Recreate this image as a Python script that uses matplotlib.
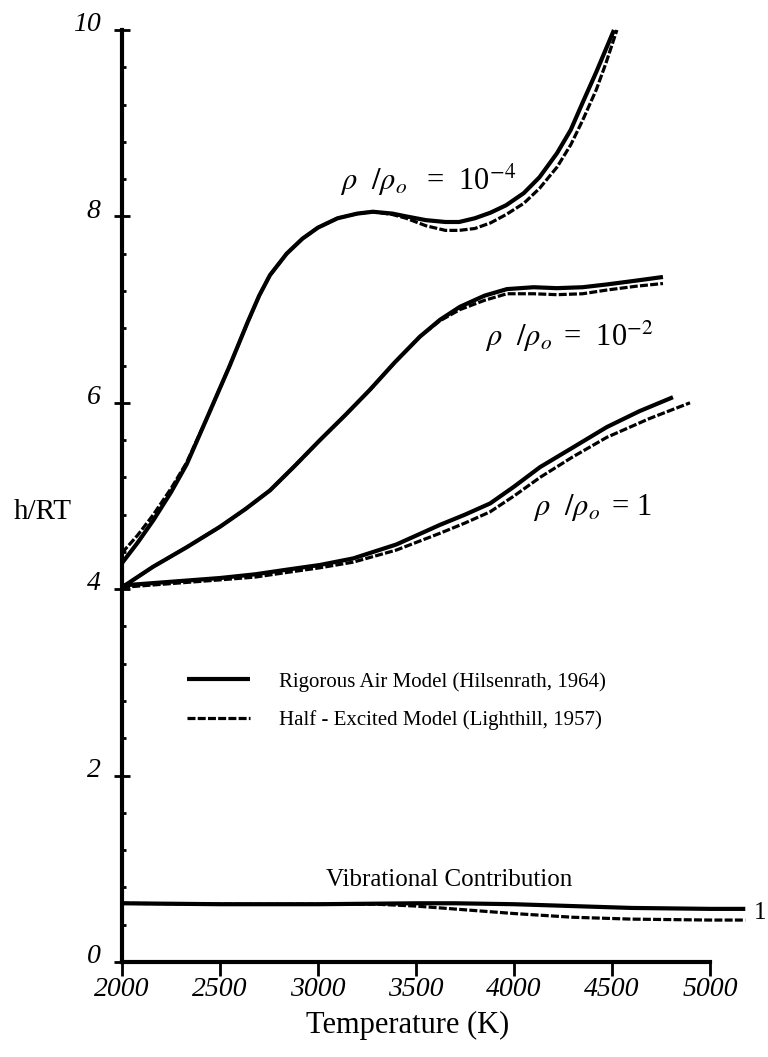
import numpy as np
import matplotlib
matplotlib.use('Agg')
import matplotlib.pyplot as plt
from matplotlib.ticker import MultipleLocator
import matplotlib.transforms as mtransforms

plt.rcParams['font.family'] = ['Liberation Serif', 'DejaVu Serif']
plt.rcParams['mathtext.fontset'] = 'stix'

# rho/rho_o = 1e-4
T_4s = [2000, 2080, 2160, 2250, 2330, 2430, 2550, 2640, 2700, 2755, 2840, 2920, 3000, 3100,
        3200, 3280, 3380, 3450, 3550, 3650, 3720, 3800, 3880, 3960, 4050, 4130, 4220, 4290,
        4350, 4420, 4470, 4510]
h_4s = [4.28, 4.50, 4.74, 5.04, 5.34, 5.82, 6.40, 6.86, 7.15, 7.37, 7.60, 7.76, 7.88, 7.98,
        8.03, 8.05, 8.03, 8.00, 7.96, 7.94, 7.94, 7.98, 8.04, 8.12, 8.25, 8.42, 8.68, 8.93,
        9.22, 9.55, 9.80, 10.0]
T_4d = [2000, 2080, 2160, 2250, 2330, 2430, 2550, 2640, 2700, 2755, 2840, 2920, 3000, 3100,
        3200, 3280, 3380, 3450, 3550, 3650, 3720, 3800, 3880, 3960, 4050, 4130, 4220, 4290,
        4350, 4420, 4470, 4525]
h_4d = [4.39, 4.58, 4.80, 5.08, 5.36, 5.82, 6.40, 6.86, 7.15, 7.37, 7.60, 7.76, 7.88, 7.98,
        8.03, 8.05, 8.02, 7.98, 7.90, 7.85, 7.85, 7.87, 7.93, 8.02, 8.14, 8.30, 8.53, 8.77,
        9.03, 9.36, 9.65, 10.0]

# rho/rho_o = 1e-2
T_2s = [2000, 2158, 2330, 2500, 2630, 2755, 2880, 3010, 3140, 3265, 3390, 3520, 3622, 3724,
        3850, 3964, 4100, 4219, 4350, 4474, 4620, 4760]
h_2s = [4.02, 4.24, 4.45, 4.67, 4.86, 5.06, 5.32, 5.60, 5.87, 6.14, 6.43, 6.71, 6.89, 7.03,
        7.15, 7.22, 7.24, 7.23, 7.24, 7.27, 7.31, 7.35]
T_2d = [2000, 2158, 2330, 2500, 2630, 2755, 2880, 3010, 3140, 3265, 3390, 3520, 3622, 3724,
        3850, 3964, 4100, 4219, 4350, 4474, 4620, 4760]
h_2d = [4.02, 4.24, 4.45, 4.67, 4.86, 5.06, 5.32, 5.60, 5.87, 6.14, 6.43, 6.71, 6.88, 7.00,
        7.10, 7.17, 7.17, 7.16, 7.17, 7.21, 7.25, 7.28]

# rho/rho_o = 1
T_0s = [2000, 2250, 2500, 2680, 2842, 3010, 3179, 3400, 3622, 3750, 3878, 4000, 4133, 4300,
        4474, 4640, 4811]
h_0s = [4.04, 4.08, 4.12, 4.16, 4.21, 4.26, 4.33, 4.48, 4.69, 4.80, 4.92, 5.10, 5.31, 5.52,
        5.74, 5.91, 6.06]
T_0d = [2000, 2250, 2500, 2680, 2842, 3010, 3179, 3400, 3622, 3750, 3878, 4000, 4133, 4300,
        4474, 4690, 4898]
h_0d = [4.02, 4.06, 4.10, 4.13, 4.18, 4.23, 4.29, 4.42, 4.60, 4.71, 4.83, 5.00, 5.20, 5.42,
        5.63, 5.83, 6.00]

# vibrational contribution
T_vs = [2000, 2500, 3000, 3500, 3700, 4000, 4300, 4600, 5000, 5180]
h_vs = [0.63, 0.62, 0.62, 0.63, 0.63, 0.62, 0.60, 0.58, 0.57, 0.57]
T_vd = [2000, 2500, 3000, 3300, 3500, 3750, 4000, 4300, 4600, 5000, 5180]
h_vd = [0.63, 0.62, 0.62, 0.62, 0.60, 0.56, 0.52, 0.48, 0.46, 0.45, 0.45]

xticks = [2000, 2500, 3000, 3500, 4000, 4500, 5000]
yticks = [0, 2, 4, 6, 8, 10]

fig = plt.figure(figsize=(7.68, 10.57), dpi=100)
ax = fig.add_axes([122/768, 95/1057, 646/768, 932/1057])

sol = dict(color='black', lw=3.0, solid_capstyle='butt', solid_joinstyle='round', clip_on=False)
das = dict(color='black', lw=2.3, ls=(0, (2.5, 0.7)), clip_on=False)

l1, = ax.plot(T_4s, h_4s, label='Rigorous Air Model (Hilsenrath, 1964)', **sol)
l2, = ax.plot(T_4d, h_4d, label='Half - Excited Model (Lighthill, 1957)', **das)
ax.plot(T_2s, h_2s, **sol)
ax.plot(T_2d, h_2d, **das)
ax.plot(T_0s, h_0s, **sol)
ax.plot(T_0d, h_0d, **das)
ax.plot(T_vs, h_vs, **sol)
ax.plot(T_vd, h_vd, **das)

ax.set_xlim(2000, 2000 + 646/0.196)
ax.set_ylim(0, 10)
ax.spines['top'].set_visible(False)
ax.spines['right'].set_visible(False)
ax.spines['left'].set_linewidth(3)
ax.spines['bottom'].set_linewidth(3)
ax.spines['left'].set_bounds(0, 10)
ax.spines['bottom'].set_bounds(2000, 5000)

ax.set_xticks(xticks)
ax.set_yticks(yticks)
ax.yaxis.set_minor_locator(MultipleLocator(0.4))
ax.tick_params(axis='y', which='major', direction='inout', length=11, width=2, labelsize=20, pad=10)
ax.tick_params(axis='y', which='minor', direction='in', length=3, width=2)
ax.tick_params(axis='x', which='major', direction='out', length=10, width=2, labelsize=20, pad=1)
plt.setp(ax.get_xticklabels() + ax.get_yticklabels(), fontstyle='italic')
off = mtransforms.ScaledTranslation(0, 6/72, fig.dpi_scale_trans)
for lab in ax.get_yticklabels():
    lab.set_transform(lab.get_transform() + off)

ax.set_ylabel('h/RT', rotation=0, fontsize=21, va='center', ha='center')
ax.yaxis.set_label_coords((43 - 122)/646, (962 - 512)/932)
ax.set_xlabel('Temperature (K)', fontsize=22, va='center')
ax.xaxis.set_label_coords((408 - 122)/646, (962 - 1025)/932)

ax.text(3561, 8.39, r'$\rho\ \ /\rho_o\,$  =  10$^{-4}$', fontsize=22, ha='center', va='center')
ax.text(4282, 6.71, r'$\rho\ \ /\rho_o\,$ =  10$^{-2}$', fontsize=22, ha='center', va='center')
ax.text(4398, 4.88, r'$\rho\ \ /\rho_o\,$ = 1', fontsize=22, ha='center', va='center')
ax.text(3668, 0.88, 'Vibrational Contribution', fontsize=18, ha='center', va='center')
ax.text(5290, 0.53, '1', fontsize=18, ha='right', va='center', clip_on=False)

ax.legend(handles=[l1, l2], loc='upper left', bbox_to_anchor=((187 - 122)/646, (962 - 672)/932),
          frameon=False, fontsize=15, handlelength=3, handletextpad=1.4, labelspacing=0.9,
          borderpad=0, borderaxespad=0)

fig.savefig('out.png', dpi=100)
